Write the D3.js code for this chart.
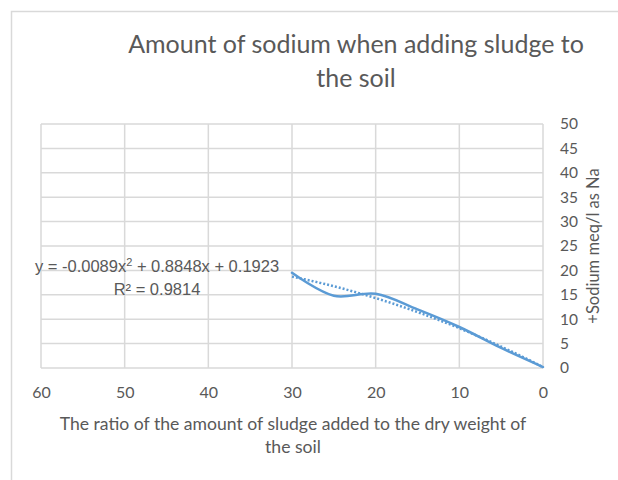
<!DOCTYPE html>
<html><head><meta charset="utf-8">
<script src="https://cdn.jsdelivr.net/npm/d3@7"></script>
<style>body{margin:0;background:#fff}svg{display:block}</style>
</head><body>
<svg id="c" width="618" height="480"></svg>
<script>
const xValues = [30, 25, 20, 15, 10, 5, 0];
const sodium = [19.5, 14.8, 15.2, 12.0, 8.4, 4.1, 0.2];
const trendCoef = [0.1923, 0.8848, -0.0089]; // c0 + c1 x + c2 x^2
const xTicks = [60, 50, 40, 30, 20, 10, 0];
const yTicks = [0, 5, 10, 15, 20, 25, 30, 35, 40, 45, 50];
const titleLines = ["Amount of sodium when adding sludge to", "the soil"];
const xTitleLines = ["The ratio of the amount of sludge added to the dry weight of", "the soil"];
const yTitle = "+Sodium meq/l as Na";

const svg = d3.select("#c");
const L = 41, R = 543, T = 124, B = 368;
const x = d3.scaleLinear().domain([60, 0]).range([L, R]);
const y = d3.scaleLinear().domain([0, 50]).range([B, T]);
const grey = "#595959", grid = "#d9d9d9";
const font = "Lato, sans-serif";

svg.append("rect").attr("x", 11.5).attr("y", 11.5).attr("width", 700).attr("height", 600)
  .attr("fill", "none").attr("stroke", grid).attr("stroke-width", 1.5);

// grid
svg.append("g").selectAll("line").data(yTicks).join("line")
  .attr("x1", L).attr("x2", R).attr("y1", d => y(d)).attr("y2", d => y(d))
  .attr("stroke", grid).attr("stroke-width", 1.5);
svg.append("g").selectAll("line").data(xTicks).join("line")
  .attr("x1", d => x(d)).attr("x2", d => x(d)).attr("y1", T).attr("y2", B)
  .attr("stroke", grid).attr("stroke-width", 1.5);

// axes (labels only)
const yAx = svg.append("g").attr("transform", `translate(${R},0)`)
  .call(d3.axisRight(y).tickValues(yTicks).tickSize(0).tickPadding(17));
yAx.select(".domain").remove();
yAx.selectAll("text").attr("fill", grey).style("font-family", font).style("font-size", "15.5px");
const xAx = svg.append("g").attr("transform", `translate(0,${B})`)
  .call(d3.axisBottom(x).tickValues(xTicks).tickSize(0).tickPadding(19));
xAx.select(".domain").remove();
xAx.selectAll("text").attr("fill", grey).style("font-family", font).style("font-size", "16px");

// trendline
const trendX = d3.range(30, -0.01, -0.5);
const trendFn = v => trendCoef[0] + trendCoef[1] * v + trendCoef[2] * v * v;
svg.append("path").datum(trendX)
  .attr("d", d3.line().x(d => x(d)).y(d => y(trendFn(d))))
  .attr("fill", "none").attr("stroke", "#5b9bd5").attr("stroke-width", 2.5)
  .attr("stroke-dasharray", "2,2");

// series
svg.append("path").datum(xValues.map((v, i) => [v, sodium[i]]))
  .attr("d", d3.line().x(d => x(d[0])).y(d => y(d[1])).curve(d3.curveCatmullRom.alpha(0.5)))
  .attr("fill", "none").attr("stroke", "#5b9bd5").attr("stroke-width", 2.5).attr("stroke-linecap", "round");

// equation
const eqFont = "'Liberation Sans', Arial, sans-serif";
const eq = svg.append("text").attr("x", 157).attr("y", 272).attr("text-anchor", "middle")
  .attr("fill", grey).style("font-family", eqFont).style("font-size", "16.5px");
eq.append("tspan").text("y = -0.0089x");
eq.append("tspan").text("2").attr("dy", -6).style("font-size", "11px");
eq.append("tspan").text(" + 0.8848x + 0.1923").attr("dy", 6);
svg.append("text").attr("x", 157).attr("y", 295).attr("text-anchor", "middle")
  .attr("fill", grey).style("font-family", eqFont).style("font-size", "16.5px")
  .text("R² = 0.9814");

// titles
svg.append("g").selectAll("text").data(titleLines).join("text")
  .attr("x", 356).attr("y", (d, i) => 53 + i * 34).attr("text-anchor", "middle")
  .attr("fill", grey).style("font-family", font).style("font-size", "25px").text(d => d);
svg.append("g").selectAll("text").data(xTitleLines).join("text")
  .attr("x", 293).attr("y", (d, i) => 430 + i * 23).attr("text-anchor", "middle")
  .attr("fill", grey).style("font-family", font).style("font-size", "17.6px").text(d => d);
svg.append("text").attr("transform", "translate(599,246) rotate(-90)").attr("text-anchor", "middle")
  .attr("fill", grey).style("font-family", font).style("font-size", "16.5px").text(yTitle);
</script>
</body></html>
